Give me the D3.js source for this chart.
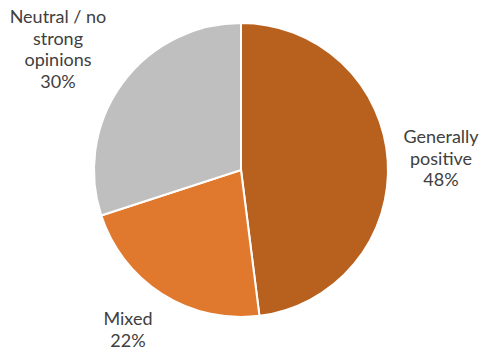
<!DOCTYPE html>
<html>
<head>
<meta charset="utf-8">
<script src="https://cdn.jsdelivr.net/npm/d3@7"></script>
<style>
  html, body { margin: 0; padding: 0; background: #fff; }
  svg { display: block; }
  text { font-family: "Lato", "Open Sans", sans-serif; fill: #404040; }
</style>
</head>
<body>
<svg id="chart" width="480" height="354"></svg>
<script>
const categories = ["Generally positive", "Mixed", "Neutral / no strong opinions"];
const values = [48, 22, 30];
const colors = ["#B8611F", "#E0792E", "#BFBFBF"];
const labelLines = [["Generally", "positive", "48%"], ["Mixed", "22%"], ["Neutral / no", "strong", "opinions", "30%"]];
const labelAnchors = [[441, 143], [128, 325], [58, 23]];

const svg = d3.select("#chart");
const cx = 241, cy = 170, r = 147;

const pie = d3.pie().sort(null).value(d => d.value);
const data = categories.map((c, i) => ({ name: c, value: values[i], color: colors[i], lines: labelLines[i], anchor: labelAnchors[i] }));
const arcs = pie(data);
const arc = d3.arc().innerRadius(0).outerRadius(r);

const g = svg.append("g").attr("transform", `translate(${cx},${cy})`);
g.selectAll("path")
  .data(arcs)
  .join("path")
  .attr("d", arc)
  .attr("fill", d => d.data.color)
  .attr("stroke", "#fff")
  .attr("stroke-width", 2)
  .attr("stroke-linejoin", "round");

const lineH = 21.5;
svg.selectAll("text.lbl")
  .data(data)
  .join("text")
  .attr("class", "lbl")
  .attr("text-anchor", "middle")
  .attr("font-size", 18)
  .each(function(d) {
    const t = d3.select(this);
    d.lines.forEach((ln, k) => {
      t.append("tspan")
        .attr("x", d.anchor[0])
        .attr("y", d.anchor[1] + k * lineH)
        .text(ln);
    });
  });
</script>
</body>
</html>
